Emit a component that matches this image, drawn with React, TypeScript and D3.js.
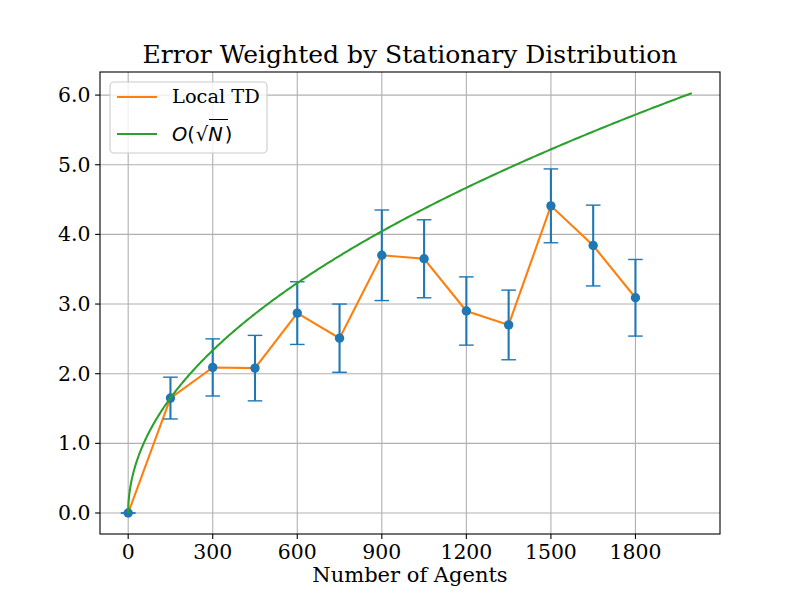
import React from "react";
import * as d3 from "d3";

const agents = [0, 150, 300, 450, 600, 750, 900, 1050, 1200, 1350, 1500, 1650, 1800];
const errorMean = [0, 1.65, 2.09, 2.08, 2.87, 2.51, 3.70, 3.65, 2.90, 2.70, 4.41, 3.84, 3.09];
const errorStd = [0, 0.30, 0.41, 0.47, 0.45, 0.49, 0.65, 0.56, 0.49, 0.50, 0.53, 0.58, 0.55];
const xTicks = [0, 300, 600, 900, 1200, 1500, 1800];
const yTicks = [0, 1, 2, 3, 4, 5, 6];
const sqrtCoef = 0.1348;
const sqrtMaxN = 2000;

const W = 800, H = 600;
const L = 100, R = 720, T = 72, B = 534;

export default function App() {
  const x = d3.scaleLinear().domain([-100, 2100]).range([L, R]);
  const y = d3.scaleLinear().domain([-0.3015, 6.3315]).range([B, T]);
  const sqrtPts: [number, number][] = d3.range(0, 401).map((i) => {
    const n = (i / 400) ** 2 * sqrtMaxN;
    return [n, sqrtCoef * Math.sqrt(n)];
  });
  const line = d3.line<[number, number]>().x((d) => x(d[0])).y((d) => y(d[1]));
  const tdPts: [number, number][] = agents.map((a, i) => [a, errorMean[i]]);
  const blue = "#1f77b4", orange = "#ff7f0e", green = "#2ca02c", grid = "#b0b0b0";
  const serif = "'DejaVu Serif', serif";
  const sans = "'DejaVu Sans', sans-serif";
  const cap = 7.3;
  const tickFs = 20.4;
  return (
    <svg width={W} height={H} style={{ position: "absolute", left: 0, top: 0, background: "#fff" }}>
      <rect x={0} y={0} width={W} height={H} fill="#fff" />
      <defs>
        <clipPath id="ax"><rect x={L} y={T} width={R - L} height={B - T} /></clipPath>
      </defs>
      {xTicks.map((t) => (
        <line key={"gx" + t} x1={x(t)} x2={x(t)} y1={T} y2={B} stroke={grid} strokeWidth={1.1} />
      ))}
      {yTicks.map((t) => (
        <line key={"gy" + t} x1={L} x2={R} y1={y(t)} y2={y(t)} stroke={grid} strokeWidth={1.1} />
      ))}
      <g clipPath="url(#ax)">
        <path d={line(tdPts) || ""} fill="none" stroke={orange} strokeWidth={2.08} />
        {agents.map((a, i) => (
          <g key={"e" + a} stroke={blue} strokeWidth={2.08}>
            <line x1={x(a)} x2={x(a)} y1={y(errorMean[i] - errorStd[i])} y2={y(errorMean[i] + errorStd[i])} />
            <line x1={x(a) - cap} x2={x(a) + cap} y1={y(errorMean[i] - errorStd[i])} y2={y(errorMean[i] - errorStd[i])} strokeWidth={1.4} />
            <line x1={x(a) - cap} x2={x(a) + cap} y1={y(errorMean[i] + errorStd[i])} y2={y(errorMean[i] + errorStd[i])} strokeWidth={1.4} />
          </g>
        ))}
        {agents.map((a, i) => (
          <circle key={"c" + a} cx={x(a)} cy={y(errorMean[i])} r={4.7} fill={blue} />
        ))}
        <path d={line(sqrtPts) || ""} fill="none" stroke={green} strokeWidth={2.08} />
      </g>
      <rect x={L} y={T} width={R - L} height={B - T} fill="none" stroke="#000" strokeWidth={1.1} />
      {xTicks.map((t) => (
        <g key={"tx" + t}>
          <line x1={x(t)} x2={x(t)} y1={B} y2={B + 4.9} stroke="#000" strokeWidth={1.1} />
          <text x={x(t)} y={559} textAnchor="middle" fontFamily={serif} fontSize={tickFs}>{t}</text>
        </g>
      ))}
      {yTicks.map((t) => (
        <g key={"ty" + t}>
          <line x1={L - 4.9} x2={L} y1={y(t)} y2={y(t)} stroke="#000" strokeWidth={1.1} />
          <text x={L - 9.5} y={y(t) + 7} textAnchor="end" fontFamily={serif} fontSize={tickFs}>{t.toFixed(1)}</text>
        </g>
      ))}
      <text x={(L + R) / 2} y={63} textAnchor="middle" fontFamily={serif} fontSize={25}>Error Weighted by Stationary Distribution</text>
      <text x={(L + R) / 2} y={582} textAnchor="middle" fontFamily={serif} fontSize={21}>Number of Agents</text>
      <g>
        <rect x={110} y={82} width={157} height={71} rx={4} fill="#fff" fillOpacity={0.8} stroke="#cccccc" strokeWidth={1.1} />
        <line x1={117} x2={157} y1={97} y2={97} stroke={orange} strokeWidth={2.08} />
        <text x={172} y={103} fontFamily={serif} fontSize={19.4}>Local TD</text>
        <line x1={117} x2={157} y1={134} y2={134} stroke={green} strokeWidth={2.08} />
        <text x={172} y={141} fontFamily={sans} fontSize={19.4}>
          <tspan fontStyle="italic">O</tspan>
          <tspan>(</tspan>
          <tspan dx={1}>√</tspan>
          <tspan fontStyle="italic">N</tspan>
          <tspan dx={2}>)</tspan>
        </text>
        <line x1={209} x2={228} y1={119.5} y2={119.5} stroke="#000" strokeWidth={1} />
      </g>
    </svg>
  );
}
